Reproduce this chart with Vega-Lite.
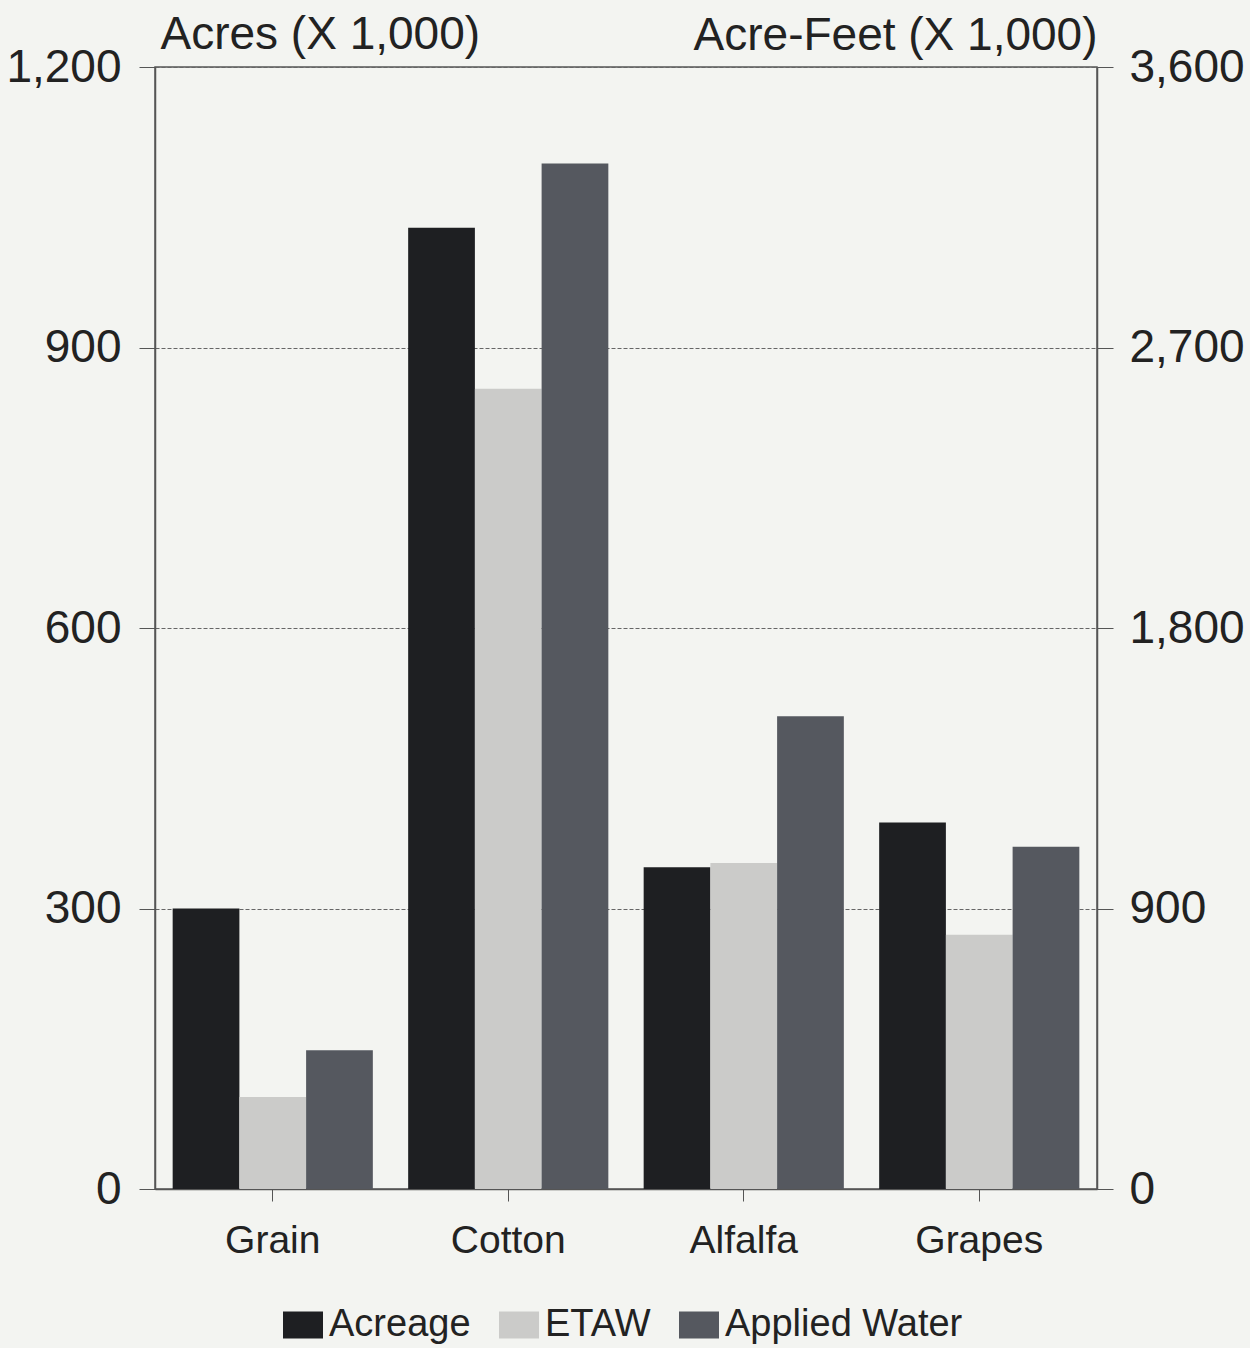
{
  "$schema": "https://vega.github.io/schema/vega-lite/v6.json",
  "width": 942,
  "height": 1122,
  "autosize": {"type": "none"},
  "padding": {"left": 155, "top": 67, "right": 153, "bottom": 159},
  "background": "#f3f4f1",
  "config": {
    "font": "Liberation Sans",
    "view": {"stroke": "#555555", "strokeWidth": 1.5}
  },
  "data": {
    "values": [
      {"crop": "Grain", "measure": "Acreage", "value": 300},
      {"crop": "Grain", "measure": "ETAW", "value": 295},
      {"crop": "Grain", "measure": "Applied Water", "value": 445},
      {"crop": "Cotton", "measure": "Acreage", "value": 1028},
      {"crop": "Cotton", "measure": "ETAW", "value": 2568},
      {"crop": "Cotton", "measure": "Applied Water", "value": 3290},
      {"crop": "Alfalfa", "measure": "Acreage", "value": 344},
      {"crop": "Alfalfa", "measure": "ETAW", "value": 1046},
      {"crop": "Alfalfa", "measure": "Applied Water", "value": 1517},
      {"crop": "Grapes", "measure": "Acreage", "value": 392},
      {"crop": "Grapes", "measure": "ETAW", "value": 816},
      {"crop": "Grapes", "measure": "Applied Water", "value": 1098}
    ]
  },
  "encoding": {
    "x": {
      "field": "crop",
      "type": "nominal",
      "sort": ["Grain", "Cotton", "Alfalfa", "Grapes"],
      "scale": {"paddingInner": 0.15, "paddingOuter": 0.075},
      "axis": {
        "title": null,
        "labelAngle": 0,
        "labelFontSize": 39,
        "labelColor": "#222222",
        "labelPadding": 20,
        "tickSize": 12,
        "tickColor": "#555555",
        "domainColor": "#555555",
        "domainWidth": 1.5
      }
    },
    "xOffset": {
      "field": "measure",
      "type": "nominal",
      "scale": {"domain": ["Acreage", "ETAW", "Applied Water"], "paddingInner": 0, "paddingOuter": 0}
    },
    "color": {
      "field": "measure",
      "type": "nominal",
      "scale": {
        "domain": ["Acreage", "ETAW", "Applied Water"],
        "range": ["#1e1f22", "#cbcbc9", "#55585f"]
      },
      "legend": {
        "title": null,
        "orient": "none",
        "direction": "horizontal",
        "legendX": 128,
        "legendY": 1238,
        "labelFontSize": 38,
        "labelColor": "#222222",
        "labelOffset": 6,
        "labelLimit": 0,
        "columnPadding": 28,
        "symbolType": "M-1,-0.68L1,-0.68L1,0.68L-1,0.68Z",
        "symbolSize": 1600,
        "symbolStrokeWidth": 0,
        "symbolOpacity": 1
      }
    }
  },
  "layer": [
    {
      "transform": [{"filter": "datum.measure == 'Acreage'"}],
      "mark": {"type": "bar", "opacity": 1},
      "encoding": {
        "y": {
          "field": "value",
          "type": "quantitative",
          "scale": {"domain": [0, 1200], "nice": false},
          "axis": {
            "orient": "left",
            "values": [0, 300, 600, 900, 1200],
            "format": ",d",
            "labelFontSize": 46,
            "labelColor": "#222222",
            "labelPadding": 18,
            "tickSize": 16,
            "tickColor": "#555555",
            "domainColor": "#555555",
            "domainWidth": 1.5,
            "grid": true,
            "gridColor": "#666666",
            "gridDash": [4, 2],
            "gridWidth": 1,
            "title": "Acres (X 1,000)",
            "titleAngle": 0,
            "titleFontSize": 46,
            "titleFontWeight": "normal",
            "titleColor": "#222222",
            "titleAlign": "left",
            "titleBaseline": "alphabetic",
            "titleX": 5,
            "titleY": -19
          }
        }
      }
    },
    {
      "transform": [{"filter": "datum.measure != 'Acreage'"}],
      "mark": {"type": "bar", "opacity": 1},
      "encoding": {
        "y": {
          "field": "value",
          "type": "quantitative",
          "scale": {"domain": [0, 3600], "nice": false},
          "axis": {
            "orient": "right",
            "values": [0, 900, 1800, 2700, 3600],
            "format": ",d",
            "labelFontSize": 46,
            "labelColor": "#222222",
            "labelPadding": 16,
            "tickSize": 16,
            "tickColor": "#555555",
            "domainColor": "#555555",
            "domainWidth": 1.5,
            "grid": false,
            "title": "Acre-Feet (X 1,000)",
            "titleAngle": 0,
            "titleFontSize": 46,
            "titleFontWeight": "normal",
            "titleColor": "#222222",
            "titleAlign": "right",
            "titleBaseline": "alphabetic",
            "titleX": 0,
            "titleY": -18
          }
        }
      }
    }
  ],
  "resolve": {"scale": {"y": "independent"}}
}
